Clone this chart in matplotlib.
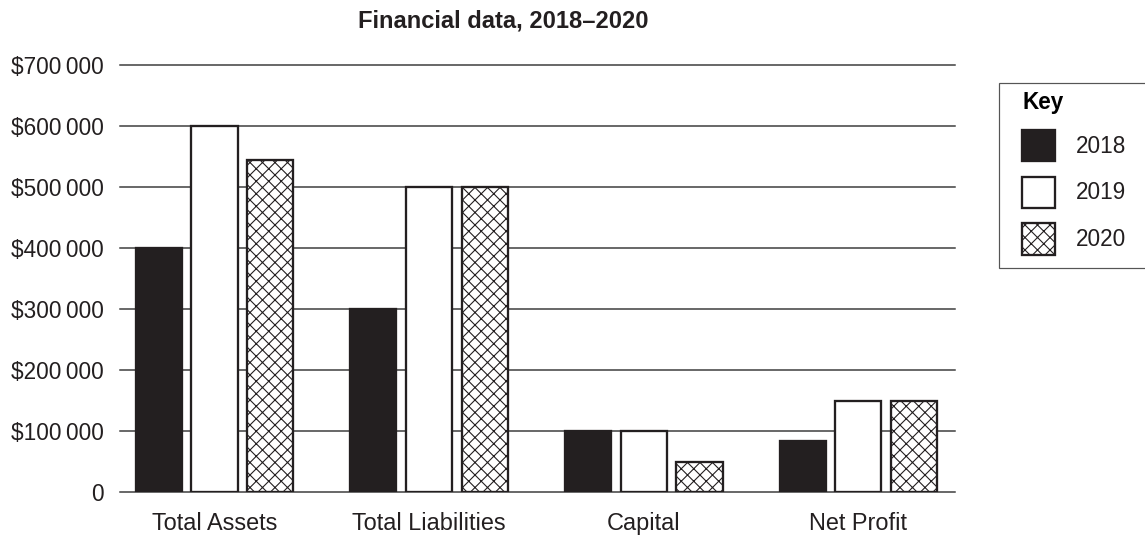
import numpy as np
import matplotlib.pyplot as plt
from matplotlib.patches import Patch, Rectangle

# work at 75 dpi so the cross hatch comes out with ~12.5 px cells
DPI = 75
PX = 72 / DPI  # points per pixel

plt.rcParams['font.family'] = ['Liberation Sans', 'DejaVu Sans']
plt.rcParams['hatch.linewidth'] = 1.1 * PX

categories = ['Total Assets', 'Total Liabilities', 'Capital', 'Net Profit']
years = ['2018', '2019', '2020']
values_2018 = [400000, 300000, 100000, 84000]
values_2019 = [600000, 500000, 100000, 150000]
values_2020 = [545000, 500000, 50000, 150000]
y_ticks = [0, 100000, 200000, 300000, 400000, 500000, 600000, 700000]


def money(v):
    if v == 0:
        return '0'
    return '$' + f'{v:,}'.replace(',', '\u2009')


dark = '#231f20'
styles = [dict(facecolor=dark, hatch=None),
          dict(facecolor='white', hatch=None),
          dict(facecolor='white', hatch='xx')]

W, H = 1145, 541
fig = plt.figure(figsize=(W / DPI, H / DPI), dpi=DPI)
ax = fig.add_axes([120 / W, 1 - 492 / H, (955 - 120) / W, (492 - 65) / H])

fs = 22.5 * PX
x = np.arange(len(categories))
width = 0.215
offset = 0.26
series = [values_2018, values_2019, values_2020]
for i, (vals, st) in enumerate(zip(series, styles)):
    ax.bar(x + (i - 1) * offset, vals, width, facecolor=st['facecolor'],
           edgecolor=dark, hatch=st['hatch'], linewidth=2.3 * PX, zorder=3)

ax.set_xlim(-0.44, 3.45)
ax.set_ylim(0, 700000)
ax.set_yticks(y_ticks)
ax.set_yticklabels([money(v) for v in y_ticks])
ax.set_xticks(x)
ax.set_xticklabels(categories)
ax.tick_params(axis='both', length=0, colors=dark)
ax.tick_params(axis='y', pad=16 * PX, labelsize=fs)
ax.tick_params(axis='x', pad=20 * PX, labelsize=23.5 * PX)
for s in ax.spines.values():
    s.set_visible(False)
ax.yaxis.grid(True, color='#3a3a3a', linewidth=1.5 * PX, zorder=0)
ax.set_axisbelow(True)
for ln in ax.get_ygridlines():
    ln.set_clip_on(False)

fig.text(503 / W, 1 - 21 / H, 'Financial data, 2018\u20132020', fontsize=23.7 * PX,
         fontweight='bold', ha='center', va='center', color=dark)

# key box
fig.patches.append(Rectangle((999 / W, 1 - 268 / H), 0.2, (268 - 83) / H,
                             transform=fig.transFigure, facecolor='white',
                             edgecolor='#555555', linewidth=1.2 * PX))
handles = [Patch(facecolor=st['facecolor'], edgecolor=dark, hatch=st['hatch'],
                 linewidth=2.3 * PX) for st in styles]
leg = fig.legend(handles, years, loc='upper left', bbox_to_anchor=(1022 / W, 1 - 91 / H),
                 frameon=False, fontsize=fs, title='Key', alignment='left', borderpad=0,
                 borderaxespad=0, handlelength=1.45, handleheight=1.75,
                 labelspacing=0.7, handletextpad=0.95)
leg.get_title().set_fontweight('bold')
leg.get_title().set_fontsize(fs)
for t in leg.get_texts():
    t.set_color(dark)

fig.savefig('out.png', dpi=DPI)
